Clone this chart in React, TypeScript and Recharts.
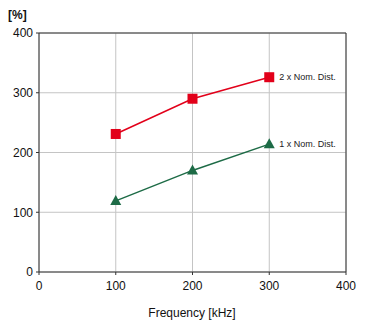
import React from 'react';
import {
  LineChart,
  Line,
  XAxis,
  YAxis,
  CartesianGrid,
  ReferenceLine,
} from 'recharts';

const frequencies = [100, 200, 300];
const twoNomDist = [231, 290, 326];
const oneNomDist = [119, 170, 214];
const xTicks = [0, 100, 200, 300, 400];
const yTicks = [0, 100, 200, 300, 400];

const seriesNames = ['2 x Nom. Dist.', '1 x Nom. Dist.'];

const data = frequencies.map((f, i) => ({
  freq: f,
  two: twoNomDist[i],
  one: oneNomDist[i],
}));

const RED = '#e2001a';
const GREEN = '#1d6b46';
const FONT = '"Liberation Sans", Arial, sans-serif';

const Square = (props: any) => {
  const { cx, cy } = props;
  if (cx == null || cy == null) return null;
  return <rect x={cx - 5} y={cy - 5} width={10} height={10} fill={RED} />;
};

const Triangle = (props: any) => {
  const { cx, cy } = props;
  if (cx == null || cy == null) return null;
  return (
    <polygon
      points={`${cx},${cy - 6} ${cx - 5.5},${cy + 4} ${cx + 5.5},${cy + 4}`}
      fill={GREEN}
    />
  );
};

const endLabel = (name: string) => (props: any) => {
  const { x, y, index } = props;
  if (index !== frequencies.length - 1) return null;
  return (
    <text x={x + 10} y={y + 3} fontSize={9} fontFamily={FONT} fill="#222">
      {name}
    </text>
  );
};

export default function App() {
  return (
    <div style={{ position: 'absolute', left: 0, top: 0, width: 369, height: 324, background: '#fff' }}>
      <LineChart
        width={369}
        height={324}
        data={data}
        margin={{ top: 33, right: 23, bottom: 0, left: 0 }}
      >
        <CartesianGrid stroke="#c4c4c4" strokeWidth={1} />
        <XAxis
          dataKey="freq"
          type="number"
          domain={[0, 400]}
          ticks={xTicks}
          axisLine={{ stroke: '#333' }}
          tickLine={{ stroke: '#333' }}
          tickSize={3}
          tick={{ fontSize: 12, fontFamily: FONT, fill: '#111' }}
          tickMargin={6}
          height={52}
        />
        <YAxis
          type="number"
          domain={[0, 400]}
          ticks={yTicks}
          axisLine={{ stroke: '#333' }}
          tickLine={{ stroke: '#333' }}
          tickSize={3}
          tick={{ fontSize: 12, fontFamily: FONT, fill: '#111' }}
          tickMargin={3}
          width={39}
        />
        <ReferenceLine y={400} stroke="#333" />
        <ReferenceLine x={400} stroke="#333" />
        <Line
          dataKey="two"
          stroke={RED}
          strokeWidth={1.5}
          dot={<Square />}
          label={endLabel(seriesNames[0])}
          isAnimationActive={false}
        />
        <Line
          dataKey="one"
          stroke={GREEN}
          strokeWidth={1.5}
          dot={<Triangle />}
          label={endLabel(seriesNames[1])}
          isAnimationActive={false}
        />
        <text x={8} y={19} fontSize={12} fontWeight="bold" fontFamily={FONT} fill="#111">
          [%]
        </text>
        <text x={192} y={317} textAnchor="middle" fontSize={12} fontFamily={FONT} fill="#111">
          Frequency [kHz]
        </text>
      </LineChart>
    </div>
  );
}
